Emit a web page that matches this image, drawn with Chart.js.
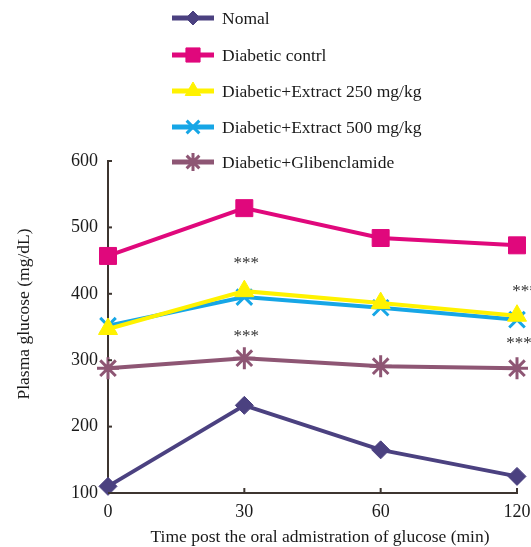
<!DOCTYPE html>
<html><head><meta charset="utf-8">
<script src="https://cdn.jsdelivr.net/npm/chart.js@4"></script>
<style>html,body{margin:0;padding:0;background:#fff}#wrap{width:531px;height:547px;position:relative}</style>
</head><body><div id="wrap"><canvas id="c" width="531" height="547"></canvas></div>
<script>
const categories = ['0', '30', '60', '120'];
const nomal = [110, 232, 165, 125];
const diabeticControl = [457, 529, 484, 473];
const extract250 = [347, 404, 386, 367];
const extract500 = [352, 395, 379, 361];
const glibenclamide = [288, 303, 291, 288];
const seriesNames = ['Nomal', 'Diabetic contrl', 'Diabetic+Extract 250 mg/kg', 'Diabetic+Extract 500 mg/kg', 'Diabetic+Glibenclamide'];
const yTicks = [100, 200, 300, 400, 500, 600];
const xTitle = 'Time post the oral admistration of glucose (min)';
const yTitle = 'Plasma glucose (mg/dL)';
const sigMarks = [ {cat: 1, value: 446, text: '***', dx: 2}, {cat: 1, value: 336, text: '***', dx: 2}, {cat: 3, value: 403, text: '***', dx: 8}, {cat: 3, value: 325, text: '***', dx: 2} ];

const colors = ['#4b4180', '#e0087c', '#fff200', '#16a6e6', '#8e5674'];
const styles = ['rectRot', 'rect', 'triangle', 'crossRot', 'star'];
const radii = [9, 12, 11, 11, 11];
const values = [nomal, diabeticControl, extract250, extract500, glibenclamide];
const SERIF = '"Liberation Serif", "DejaVu Serif", serif';
const isStroke = s => s === 'crossRot' || s === 'star';

const datasets = values.map((v, i) => ({
  label: seriesNames[i], data: v, borderColor: colors[i], backgroundColor: colors[i],
  borderWidth: 4, pointStyle: styles[i], pointRadius: radii[i], pointHoverRadius: radii[i],
  pointBorderWidth: isStroke(styles[i]) ? 3 : 1,
  tension: 0, clip: false
}));

const extras = {
  id: 'extras',
  afterDraw(chart) {
    const ctx = chart.ctx, xs = chart.scales.x, ys = chart.scales.y, a = chart.chartArea;
    ctx.save();
    ctx.strokeStyle = '#3d3530'; ctx.lineWidth = 2;
    categories.forEach((c, i) => { if (i === 0) return; const x = xs.getPixelForValue(i); ctx.beginPath(); ctx.moveTo(x, a.bottom); ctx.lineTo(x, a.bottom - 5); ctx.stroke(); });
    yTicks.forEach(t => { const y = ys.getPixelForValue(t); ctx.beginPath(); ctx.moveTo(a.left, y); ctx.lineTo(a.left + 4, y); ctx.stroke(); });
    ctx.fillStyle = '#333'; ctx.font = '17px ' + SERIF; ctx.textAlign = 'center'; ctx.textBaseline = 'middle';
    sigMarks.forEach(m => ctx.fillText(m.text, xs.getPixelForValue(m.cat) + m.dx, ys.getPixelForValue(m.value)));
    ctx.fillStyle = '#1a1a1a'; ctx.font = '17.5px ' + SERIF;
    ctx.fillText(xTitle, 320, 537);
    ctx.save(); ctx.translate(24, 314); ctx.rotate(-Math.PI / 2); ctx.fillText(yTitle, 0, 0); ctx.restore();
    const rows = [18, 55, 91, 127, 162];
    seriesNames.forEach((n, i) => {
      const y = rows[i];
      ctx.strokeStyle = colors[i]; ctx.fillStyle = colors[i]; ctx.lineWidth = 5;
      ctx.beginPath(); ctx.moveTo(172, y); ctx.lineTo(214, y); ctx.stroke();
      ctx.lineWidth = isStroke(styles[i]) ? 3 : 1;
      Chart.helpers.drawPoint(ctx, { pointStyle: styles[i], radius: radii[i] - 2, borderWidth: ctx.lineWidth }, 193, y);
      ctx.fillStyle = '#1a1a1a'; ctx.textAlign = 'left'; ctx.font = '17.5px ' + SERIF;
      ctx.fillText(n, 222, y + 1);
    });
    ctx.restore();
  }
};

new Chart(document.getElementById('c'), {
  type: 'line',
  data: { labels: categories, datasets },
  options: {
    responsive: false, animation: false,
    layout: { padding: { top: 161, right: 0, left: 0, bottom: 0 } },
    plugins: { legend: { display: false }, tooltip: { enabled: false } },
    scales: {
      x: {
        type: 'category', offset: false,
        grid: { display: false, drawTicks: false },
        border: { display: true, color: '#3d3530', width: 2 },
        ticks: { color: '#1a1a1a', font: { family: SERIF, size: 18 }, padding: 8, maxRotation: 0 },
        afterFit(s) { s.height = 54; s.paddingLeft = 0; s.paddingRight = 14; }
      },
      y: {
        min: 100, max: 600,
        afterBuildTicks(s) { s.ticks = yTicks.map(v => ({ value: v })); },
        grid: { display: false, drawTicks: false },
        border: { display: true, color: '#3d3530', width: 2 },
        ticks: { color: '#1a1a1a', font: { family: SERIF, size: 18 }, padding: 10 },
        afterFit(s) { s.width = 108; }
      }
    }
  },
  plugins: [extras]
});
</script></body></html>
